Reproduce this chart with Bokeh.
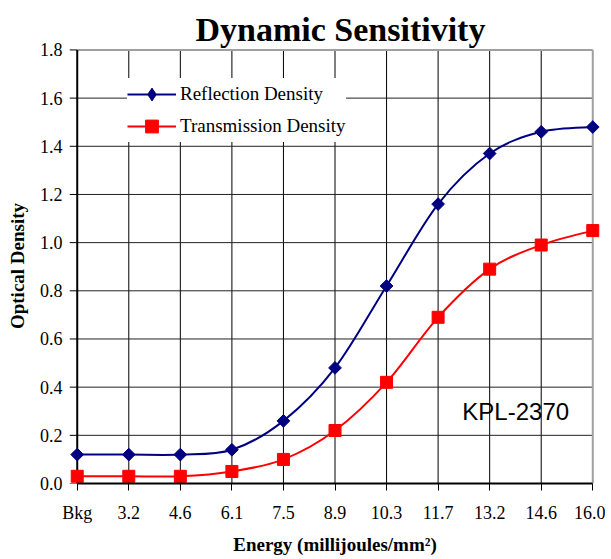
import numpy as np
from bokeh.plotting import figure
from bokeh.models import FixedTicker, Range1d, Label, Legend, LegendItem, NumeralTickFormatter
from bokeh.embed import file_html
from bokeh.resources import INLINE

categories = ["Bkg", "3.2", "4.6", "6.1", "7.5", "8.9", "10.3", "11.7", "13.2", "14.6", "16.0"]
reflection = [0.12, 0.12, 0.12, 0.14, 0.26, 0.48, 0.82, 1.16, 1.37, 1.46, 1.48]
transmission = [0.03, 0.03, 0.03, 0.05, 0.10, 0.22, 0.42, 0.69, 0.89, 0.99, 1.05]
y_ticks = [0.0, 0.2, 0.4, 0.6, 0.8, 1.0, 1.2, 1.4, 1.6, 1.8]

xs = list(range(len(categories)))
x_max = xs[-1]
y_max = y_ticks[-1]

SERIF = "Liberation Serif"


def bezier_segments(xv, yv):
    xv = np.asarray(xv, float)
    yv = np.asarray(yv, float)
    px = np.concatenate([[xv[0]], xv, [xv[-1]]])
    py = np.concatenate([[yv[0]], yv, [yv[-1]]])
    n = len(xv)
    d = dict(x0=[], y0=[], x1=[], y1=[], cx0=[], cy0=[], cx1=[], cy1=[])
    for i in range(n - 1):
        a, b, c, e = i, i + 1, i + 2, i + 3
        d["x0"].append(px[b]); d["y0"].append(py[b])
        d["x1"].append(px[c]); d["y1"].append(py[c])
        d["cx0"].append(px[b] + (px[c] - px[a]) / 6.0)
        d["cy0"].append(py[b] + (py[c] - py[a]) / 6.0)
        d["cx1"].append(px[c] - (px[e] - px[b]) / 6.0)
        d["cy1"].append(py[c] - (py[e] - py[b]) / 6.0)
    return d


pad = 0.15
p = figure(width=605, height=557, output_backend="svg", toolbar_location=None,
           x_range=Range1d(-pad, x_max + pad), y_range=Range1d(0, y_max + 0.006),
           min_border_left=69, min_border_right=5, min_border_top=48, min_border_bottom=73)
p.outline_line_color = None
p.xgrid.visible = False
p.ygrid.visible = False

nv = len(xs) - 2
nh = len(y_ticks) - 2
# gridlines from tick arrays
p.segment(x0=xs[1:-1], y0=[0] * nv, x1=xs[1:-1], y1=[y_max] * nv,
          line_color="black", line_width=1)
p.segment(x0=[0] * nh, y0=y_ticks[1:-1], x1=[x_max] * nh,
          y1=y_ticks[1:-1], line_color="#222222", line_width=1)
# gray frame top and right
p.segment(x0=[0, x_max], y0=[y_max, 0], x1=[x_max, x_max], y1=[y_max, y_max],
          line_color="#a0a0a0", line_width=2)
# y axis line and outward ticks
p.segment(x0=[-pad] * len(y_ticks), y0=y_ticks, x1=[0] * len(y_ticks), y1=y_ticks,
          line_color="black", line_width=1)
p.segment(x0=[0], y0=[0], x1=[0], y1=[y_max], line_color="black", line_width=2)

rb = p.bezier(source=bezier_segments(xs, reflection), x0="x0", y0="y0", x1="x1", y1="y1",
              cx0="cx0", cy0="cy0", cx1="cx1", cy1="cy1", line_color="#000080", line_width=2)
tb = p.bezier(source=bezier_segments(xs, transmission), x0="x0", y0="y0", x1="x1", y1="y1",
              cx0="cx0", cy0="cy0", cx1="cx1", cy1="cy1", line_color="#FF0000", line_width=2)
rs = p.scatter(xs, reflection, marker="square", angle=np.pi / 4, size=9,
               fill_color="#000080", line_color="#000080")
ts = p.scatter(xs, transmission, marker="square", size=12,
               fill_color="#FF0000", line_color="#FF0000")
# legend-only diamond marker (legend ignores marker angle)
rl = p.scatter(xs, reflection, marker="diamond", size=12, visible=False,
               fill_color="#000080", line_color="#000080")

legend = Legend(items=[LegendItem(label="Reflection Density", renderers=[rb, rl], index=0),
                       LegendItem(label="Transmission Density", renderers=[tb, ts], index=0)],
                location=(58, 341), orientation="vertical",
                background_fill_color="white", background_fill_alpha=1.0,
                border_line_color=None, padding=5, spacing=0, margin=0,
                glyph_width=49, glyph_height=32, label_height=32, label_standoff=4,
                label_text_font=SERIF, label_text_font_size="19px", label_text_color="black")
p.add_layout(legend, "center")

p.add_layout(Label(x=7.47, y=0.30, text="KPL-2370", text_font="Liberation Sans",
                   text_font_size="24px", text_baseline="middle", text_align="left",
                   text_color="black"))

# title
p.title.text = "Dynamic Sensitivity"
p.title.align = "left"
p.title.offset = 126
p.title.text_font = SERIF
p.title.text_font_size = "34px"
p.title.text_font_style = "bold"
p.title.text_color = "black"
p.title.standoff = 2

# x axis
xa = p.xaxis[0]
xa.ticker = FixedTicker(ticks=xs)
xa.major_label_overrides = {i: c for i, c in zip(xs, categories)}
xa.bounds = (0, x_max)
xa.minor_tick_line_color = None
xa.major_tick_in = 0
xa.major_tick_out = 7
xa.axis_line_width = 2
xa.axis_line_color = "black"
xa.major_tick_line_color = "black"
xa.major_label_text_font = SERIF
xa.major_label_text_font_size = "18px"
xa.major_label_text_color = "black"
xa.major_label_standoff = 12
xa.axis_label = "Energy (millijoules/mm\u00b2)"
xa.axis_label_text_font = SERIF
xa.axis_label_text_font_size = "19px"
xa.axis_label_text_font_style = "bold"
xa.axis_label_text_color = "black"
xa.axis_label_standoff = 8

# y axis (labels only; line and ticks drawn at x=0 above)
ya = p.yaxis[0]
ya.ticker = FixedTicker(ticks=y_ticks)
ya.formatter = NumeralTickFormatter(format="0.0")
ya.axis_line_color = None
ya.major_tick_line_color = None
ya.minor_tick_line_color = None
ya.major_tick_in = 0
ya.major_tick_out = 0
ya.major_label_text_font = SERIF
ya.major_label_text_font_size = "18px"
ya.major_label_text_color = "black"
ya.major_label_standoff = 7
ya.axis_label = "Optical Density"
ya.axis_label_text_font = SERIF
ya.axis_label_text_font_size = "19px"
ya.axis_label_text_font_style = "bold"
ya.axis_label_text_color = "black"
ya.axis_label_standoff = 9

open("out.html", "w").write(file_html(p, INLINE))
